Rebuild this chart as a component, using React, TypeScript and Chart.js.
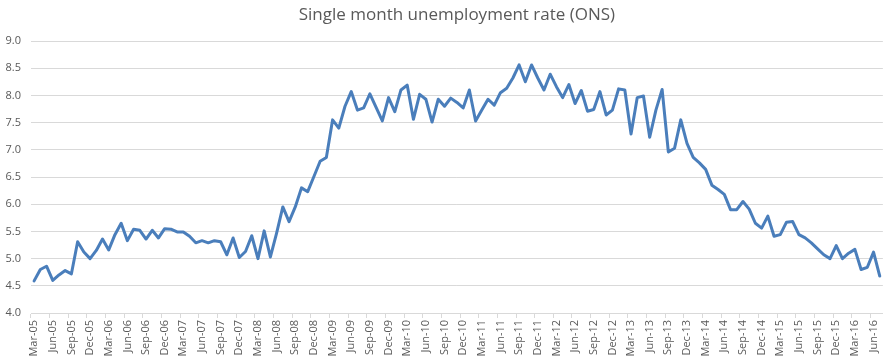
import React, { useEffect, useRef } from "react";
import { Chart, registerables } from "chart.js";

Chart.register(...registerables);

const MONTH_NAMES = ["Jan", "Feb", "Mar", "Apr", "May", "Jun", "Jul", "Aug", "Sep", "Oct", "Nov", "Dec"];
const START_YEAR = 2005;
const START_MONTH = 2; // Mar
const MONTH_COUNT = 137; // Mar-05 .. Jul-16

const categories: string[] = [];
for (let i = 0; i < MONTH_COUNT; i++) {
  const m = (START_MONTH + i) % 12;
  const y = START_YEAR + Math.floor((START_MONTH + i) / 12);
  categories.push(`${MONTH_NAMES[m]}-${String(y % 100).padStart(2, "0")}`);
}

const unemploymentRate: number[] = [
  4.59, 4.80, 4.86, 4.60, 4.70, 4.78, 4.72, 5.31, 5.12, 5.00,
  5.15, 5.36, 5.16, 5.44, 5.65, 5.33, 5.54, 5.52, 5.36, 5.52,
  5.38, 5.55, 5.54, 5.49, 5.49, 5.41, 5.29, 5.33, 5.29, 5.33,
  5.31, 5.07, 5.38, 5.02, 5.13, 5.42, 5.00, 5.51, 5.03, 5.47,
  5.95, 5.68, 5.95, 6.30, 6.23, 6.51, 6.79, 6.86, 7.55, 7.40,
  7.80, 8.07, 7.73, 7.77, 8.03, 7.78, 7.53, 7.96, 7.70, 8.10,
  8.19, 7.56, 8.02, 7.93, 7.51, 7.93, 7.80, 7.95, 7.87, 7.77,
  8.10, 7.53, 7.73, 7.93, 7.82, 8.05, 8.13, 8.32, 8.56, 8.25,
  8.56, 8.32, 8.10, 8.39, 8.16, 7.96, 8.20, 7.85, 8.09, 7.71,
  7.74, 8.07, 7.64, 7.73, 8.12, 8.10, 7.29, 7.96, 7.99, 7.23,
  7.73, 8.11, 6.96, 7.03, 7.55, 7.12, 6.86, 6.76, 6.64, 6.35,
  6.27, 6.18, 5.90, 5.90, 6.05, 5.91, 5.65, 5.56, 5.78, 5.41,
  5.44, 5.67, 5.68, 5.44, 5.38, 5.29, 5.18, 5.07, 5.00, 5.24,
  5.00, 5.10, 5.17, 4.80, 4.84, 5.12, 4.68,
];

const Y_MIN = 4.0;
const Y_MAX = 9.0;
const Y_STEP = 0.5;
const LABEL_EVERY = 3;
const TITLE = "Single month unemployment rate (ONS)";

export default function App() {
  const canvasRef = useRef<HTMLCanvasElement | null>(null);

  useEffect(() => {
    document.body.style.margin = "0";
    const canvas = canvasRef.current;
    if (!canvas) return;
    const GRID = "#D9D9D9";
    const TEXT = "#595959";
    const chart = new Chart(canvas, {
      type: "line",
      data: {
        labels: categories,
        datasets: [
          {
            data: unemploymentRate,
            borderColor: "#4A7EBB",
            backgroundColor: "#4A7EBB",
            borderWidth: 3,
            pointRadius: 0,
            tension: 0,
            borderJoinStyle: "round",
            borderCapStyle: "round",
            fill: false,
          },
        ],
      },
      options: {
        animation: false,
        responsive: false,
        maintainAspectRatio: false,
        layout: { padding: { left: 0, right: 2, top: 0, bottom: 0 } },
        plugins: {
          legend: { display: false },
          tooltip: { enabled: false },
          title: {
            display: true,
            text: TITLE,
            color: TEXT,
            fullSize: false,
            font: { family: "'Open Sans', sans-serif", size: 17, weight: "normal" },
            padding: { top: 5, bottom: 15.6 },
          },
        },
        scales: {
          x: {
            type: "category",
            offset: true,
            border: { display: true, color: GRID, width: 1 },
            grid: {
              offset: true,
              drawOnChartArea: false,
              drawTicks: true,
              tickLength: 5,
              color: (ctx: any) => (ctx.index % LABEL_EVERY === 0 ? GRID : "rgba(0,0,0,0)"),
            },
            ticks: {
              autoSkip: false,
              minRotation: 90,
              maxRotation: 90,
              padding: 2,
              color: TEXT,
              font: { family: "'Open Sans', sans-serif", size: 11 },
              callback: function (_v: any, index: number) {
                return index % LABEL_EVERY === 0 ? categories[index] : "";
              },
            },
            afterFit: (scale: any) => {
              scale.height = 48;
            },
          },
          y: {
            min: Y_MIN,
            max: Y_MAX,
            border: { display: false },
            grid: { color: GRID, drawTicks: false, lineWidth: 1 },
            ticks: {
              stepSize: Y_STEP,
              padding: 10,
              color: TEXT,
              font: { family: "'Open Sans', sans-serif", size: 11 },
              callback: (v: any) => Number(v).toFixed(1),
            },
            afterFit: (scale: any) => {
              scale.width = 31;
            },
          },
        },
      },
    });
    return () => chart.destroy();
  }, []);

  return (
    <div style={{ width: 895, height: 361, background: "#fff" }}>
      <canvas ref={canvasRef} width={895} height={361} style={{ display: "block" }} />
    </div>
  );
}
